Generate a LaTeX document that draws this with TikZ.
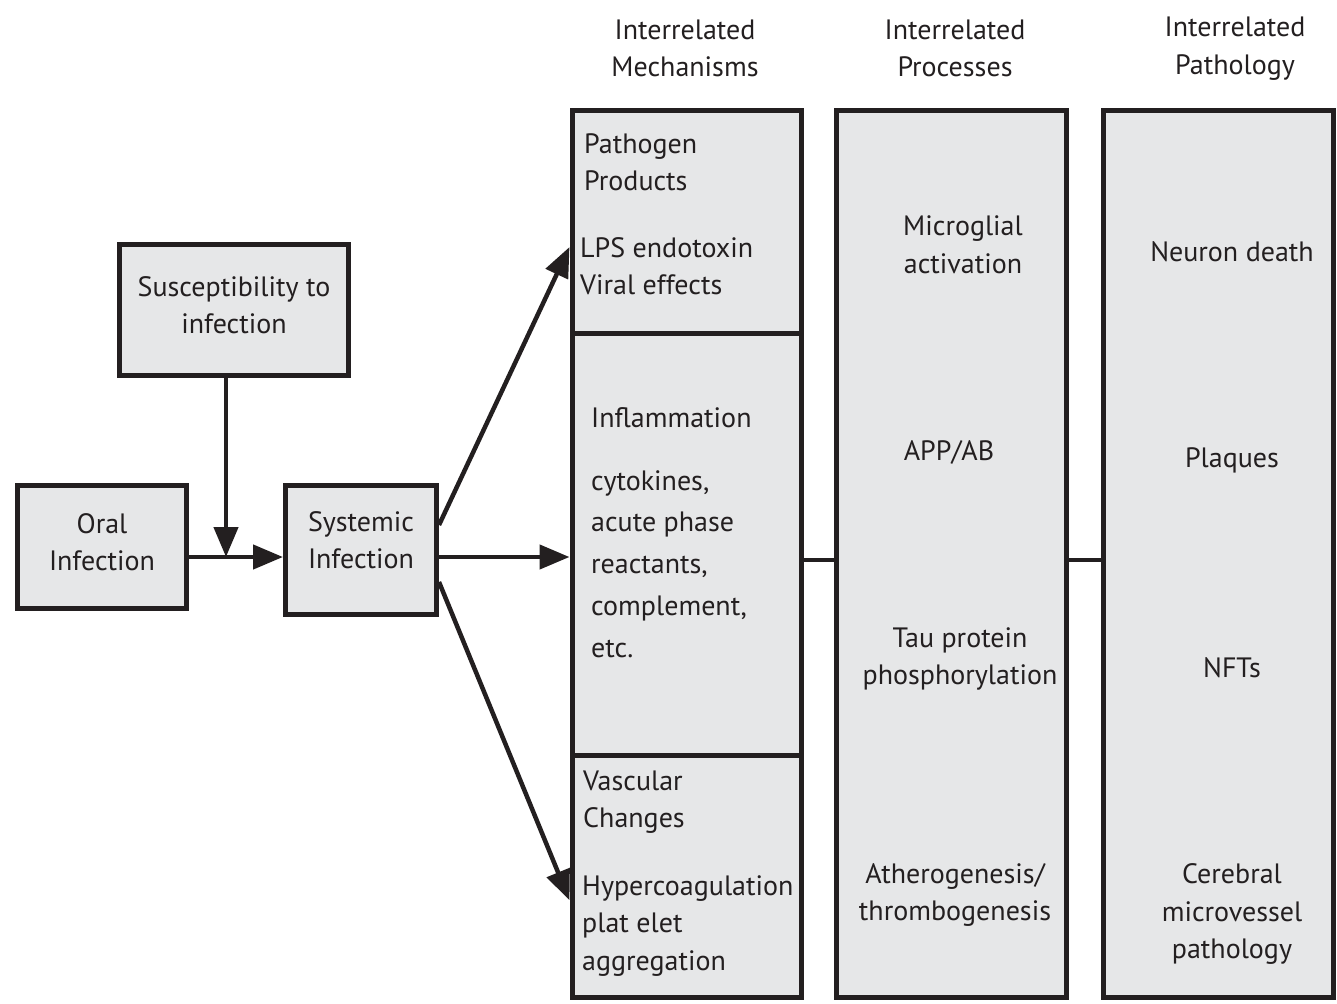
\documentclass[tikz,border=0pt]{standalone}
\usepackage{fontspec}
\setmainfont{PT Sans}
\usetikzlibrary{arrows.meta}

\definecolor{boxfill}{HTML}{E6E7E8}
\definecolor{ink}{HTML}{231F20}

\tikzset{
  box/.style={draw=ink, line width=5pt, fill=boxfill, inner sep=0pt},
  lbl/.style={inner sep=0pt, align=center, text=ink, font=\fontsize{28}{37.5}\selectfont},
  lbll/.style={lbl, align=left, anchor=base west},
  arr/.style={draw=ink, line width=4.5pt, -{Triangle[length=30pt,width=24pt]}},
  link/.style={draw=ink, line width=4.5pt}
}

\begin{document}
\begin{tikzpicture}[x=1pt,y=-1pt]
\useasboundingbox (0,0) rectangle (1337,1003);

% left chain
\node[box, lbl, text depth=10pt, minimum width=169pt, minimum height=123pt] (oral) at (102,547) {Oral\\Infection};
\node[box, lbl, text depth=10pt, minimum width=229pt, minimum height=131pt] (susc) at (234,310) {Susceptibility to\\infection};
\node[box, lbl, text depth=20pt, minimum width=151pt, minimum height=129pt] (sys) at (361,550) {Systemic\\Infection};
\coordinate (j) at (226,557);

% columns
\node[box, minimum width=229pt, minimum height=222pt] (mech1) at (686.5,222) {};
\node[box, minimum width=229pt, minimum height=422pt] (mech2) at (686.5,544) {};
\node[box, minimum width=229pt, minimum height=242.5pt] (mech3) at (686.5,876.25) {};
\node[box, minimum width=230pt, minimum height=886.5pt] (proc) at (951,554.25) {};
\node[box, minimum width=230pt, minimum height=886.5pt] (patho) at (1218,554.25) {};
\coordinate (c) at (0,560);

% headings
\node[lbl] (hmech) at (685,48.5) {Interrelated\\Mechanisms};
\node[lbl] (hproc) at (955,48.5) {Interrelated\\Processes};
\node[lbl] (hpath) at (1235,48.5) {Interrelated\\Pathology};

% mechanisms (base = last line)
\node[lbll] (pp) at (584,190.5) {Pathogen\\Products};
\node[lbll] (lps) at (580,294.5) {LPS endotoxin\\Viral effects};
\node[lbll] (infl) at (591,427) {Inflammation};
\node[lbll, font=\fontsize{28}{41.7}\selectfont] (cyto) at (591,657) {cytokines,\\acute phase\\reactants,\\complement,\\etc.};
\node[lbll] (vasc) at (583,827.5) {Vascular\\Changes};
\node[lbll] (hyper) at (582,970) {Hypercoagulation\\plat elet\\aggregation};

% processes
\node[lbl] (micro) at (963,245) {Microglial\\activation};
\node[lbl] (app) at (949,452) {APP/AB};
\node[lbl] (tau) at (960,659) {Tau protein\\phosphorylation};
\node[lbl] (ather) at (955,895) {Atherogenesis/\\thrombogenesis};

% pathology
\node[lbl] (neuron) at (1232,252) {Neuron death};
\node[lbl] (plaq) at (1232,460) {Plaques};
\node[lbl] (nft) at (1232,668) {NFTs};
\node[lbl] (cereb) at (1232,914) {Cerebral\\microvessel\\pathology};

% connectors
\draw[link] (oral.east |- j) -- (j);
\draw[arr] (susc.south -| j) -- (j);
\draw[arr] (j) -- (sys.west |- j);
\draw[arr] ([yshift=25pt]sys.east) -- ([yshift=-25pt]mech1.west);
\draw[arr] (sys.east |- j) -- (mech2.west |- j);
\draw[arr] ([yshift=-32pt]sys.east) -- ([yshift=-24pt]mech3.west);
\draw[link] (mech2.east |- c) -- (proc.west |- c);
\draw[link] (proc.east |- c) -- (patho.west |- c);
\end{tikzpicture}
\end{document}
